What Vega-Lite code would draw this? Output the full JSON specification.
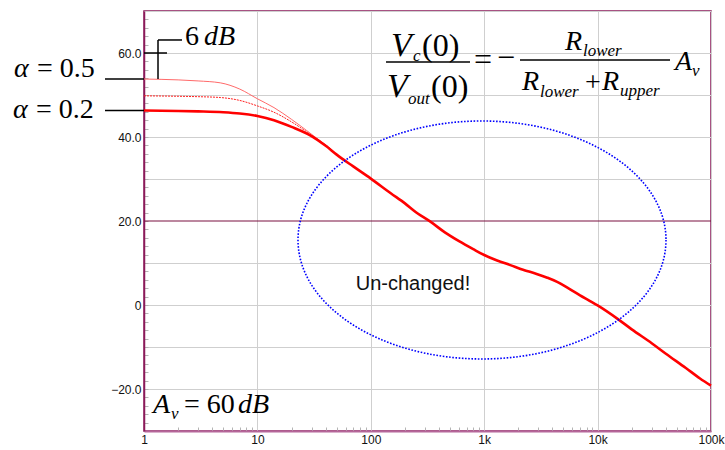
{
  "$schema": "https://vega.github.io/schema/vega-lite/v6.json",
  "width": 567,
  "height": 420,
  "autosize": {"type": "none"},
  "padding": {"left": 144, "top": 11, "right": 14, "bottom": 19},
  "background": "white",
  "config": {
    "view": {"stroke": "#8b1a5a", "strokeWidth": 1.5},
    "axis": {"title": null}
  },
  "datasets": {
    "alpha05": [
      {"f": 1, "db": 53.8}, {"f": 2, "db": 53.6}, {"f": 3, "db": 53.35}, {"f": 4.7, "db": 52.9},
      {"f": 7, "db": 51.4}, {"f": 10, "db": 49.1}, {"f": 14, "db": 47.0}, {"f": 20, "db": 44.2},
      {"f": 27, "db": 41.6}, {"f": 35, "db": 39.3}, {"f": 45, "db": 37.0}, {"f": 50, "db": 35.8},
      {"f": 70, "db": 33.0}, {"f": 100, "db": 30.1}
    ],
    "alphaMid": [
      {"f": 1, "db": 49.8}, {"f": 2, "db": 49.7}, {"f": 3, "db": 49.6}, {"f": 4.7, "db": 49.4},
      {"f": 7, "db": 48.7}, {"f": 10, "db": 47.4}, {"f": 14, "db": 45.9}, {"f": 20, "db": 43.6},
      {"f": 27, "db": 41.3}, {"f": 35, "db": 39.2}, {"f": 45, "db": 37.0}, {"f": 50, "db": 35.8},
      {"f": 70, "db": 33.0}, {"f": 100, "db": 30.1}
    ],
    "alpha02": [
      {"f": 1, "db": 46.3}, {"f": 2, "db": 46.2}, {"f": 3, "db": 46.1}, {"f": 5, "db": 45.9},
      {"f": 7, "db": 45.6}, {"f": 10, "db": 45.0}, {"f": 14, "db": 44.0}, {"f": 20, "db": 42.4},
      {"f": 30, "db": 40.2}, {"f": 40, "db": 37.9}, {"f": 50, "db": 35.8}, {"f": 70, "db": 33.0},
      {"f": 100, "db": 30.1}, {"f": 150, "db": 26.6}, {"f": 200, "db": 24.2}, {"f": 250, "db": 22.1},
      {"f": 333, "db": 19.9}, {"f": 450, "db": 17.3}, {"f": 600, "db": 15.2}, {"f": 800, "db": 13.3},
      {"f": 1000, "db": 11.9}, {"f": 1300, "db": 10.6}, {"f": 1700, "db": 9.5}, {"f": 2200, "db": 8.4},
      {"f": 2900, "db": 7.4}, {"f": 3600, "db": 6.5}, {"f": 4400, "db": 5.5}, {"f": 5500, "db": 4.0},
      {"f": 7000, "db": 2.3}, {"f": 8500, "db": 1.0}, {"f": 10000, "db": -0.1}, {"f": 15000, "db": -3.3},
      {"f": 20000, "db": -5.8}, {"f": 30000, "db": -9.1}, {"f": 40000, "db": -11.6}, {"f": 60000, "db": -15.0},
      {"f": 80000, "db": -17.5}, {"f": 100000, "db": -19.2}
    ],
    "leaders": [
      {"f": 0.453, "f2": 1, "db": 53.8, "db2": 53.8},
      {"f": 0.453, "f2": 1, "db": 46.3, "db2": 46.3},
      {"f": 1.329, "f2": 1.329, "db": 53.8, "db2": 63.1},
      {"f": 1.329, "f2": 2.163, "db": 63.1, "db2": 63.1},
      {"f": 1, "f2": 1.595, "db": 60, "db2": 60}
    ],
    "fractionBars": [
      {"f": 136.2, "f2": 749.6, "db": 57.86, "db2": 57.86},
      {"f": 2069, "f2": 43500, "db": 58.33, "db2": 58.33}
    ],
    "italic28": [
      {"f": 0.07139, "db": 54.29, "t": "α"},
      {"f": 0.06997, "db": 44.52, "t": "α"},
      {"f": 3.381, "db": 61.9, "t": "dB"},
      {"f": 1.2, "db": -25.71, "t": "A"},
      {"f": 6.744, "db": -25.71, "t": "dB"},
      {"f": 5158, "db": 60.71, "t": "R"},
      {"f": 2154, "db": 51.19, "t": "R"},
      {"f": 10935, "db": 51.19, "t": "R"},
      {"f": 48130, "db": 55.95, "t": "A"}
    ],
    "roman28": [
      {"f": 0.1138, "db": 54.29, "t": "= 0.5"},
      {"f": 0.1116, "db": 44.52, "t": "= 0.2"},
      {"f": 2.299, "db": 61.9, "t": "6"},
      {"f": 2.253, "db": -25.71, "t": "= 60"},
      {"f": 7743, "db": 50.95, "t": "+"}
    ],
    "italic34": [
      {"f": 150.7, "db": 59.29, "t": "V"},
      {"f": 138.9, "db": 49.52, "t": "V"}
    ],
    "roman32": [
      {"f": 282.8, "db": 59.29, "t": "(0)"},
      {"f": 339.6, "db": 49.52, "t": "(0)"},
      {"f": 812.9, "db": 55.95, "t": "="},
      {"f": 1297, "db": 56.43, "t": "−"}
    ],
    "subscripts": [
      {"f": 236, "db": 58.1, "t": "c"},
      {"f": 213, "db": 47.86, "t": "out"},
      {"f": 7435, "db": 59.29, "t": "lower"},
      {"f": 3105, "db": 49.52, "t": "lower"},
      {"f": 15760, "db": 49.76, "t": "upper"},
      {"f": 68000, "db": 54.52, "t": "v"},
      {"f": 1.73, "db": -27.14, "t": "v"}
    ],
    "callout": [
      {"f": 235.6, "db": 3.57, "t": "Un-changed!"}
    ]
  },
  "layer": [
    {
      "data": {"values": [{"db": 20}]},
      "mark": {"type": "rule", "color": "#7b1040", "strokeWidth": 1.2},
      "encoding": {
        "y": {"field": "db", "type": "quantitative", "scale": {"domain": [-30, 70], "nice": false, "zero": false}, "axis": null}
      }
    },
    {
      "data": {"name": "alpha05"},
      "mark": {"type": "line", "color": "#ff6a6a", "strokeWidth": 1, "interpolate": "monotone"},
      "encoding": {
        "x": {"field": "f", "type": "quantitative", "scale": {"type": "log", "domain": [1, 100000], "nice": false},
              "axis": {"orient": "bottom", "values": [1, 10, 100, 1000, 10000, 100000], "grid": true, "gridColor": "#cfcfcf", "gridWidth": 1, "labels": false, "ticks": false, "domain": false}},
        "y": {"field": "db", "type": "quantitative", "scale": {"domain": [-30, 70], "nice": false, "zero": false},
              "axis": {"orient": "left", "values": [-30, -20, -10, 0, 10, 30, 40, 50, 60, 70], "grid": true, "gridColor": "#cfcfcf", "gridWidth": 1, "labels": false, "ticks": false, "domain": false}}
      }
    },
    {
      "data": {"name": "alphaMid"},
      "mark": {"type": "line", "color": "#ff2020", "strokeWidth": 1, "strokeDash": [2, 1], "interpolate": "monotone"},
      "encoding": {
        "x": {"field": "f", "type": "quantitative", "scale": {"type": "log", "domain": [1, 100000], "nice": false},
              "axis": {"orient": "bottom", "values": [2, 3, 4, 5, 6, 7, 8, 9, 20, 30, 40, 50, 60, 70, 80, 90, 200, 300, 400, 500, 600, 700, 800, 900, 2000, 3000, 4000, 5000, 6000, 7000, 8000, 9000, 20000, 30000, 40000, 50000, 60000, 70000, 80000, 90000],
                       "grid": false, "labels": false, "ticks": true, "tickSize": -4, "tickColor": "#b4b4b4", "tickWidth": 1, "domain": false}},
        "y": {"field": "db", "type": "quantitative", "scale": {"domain": [-30, 70], "nice": false, "zero": false},
              "axis": {"orient": "left", "values": [-28, -26, -24, -22, -20, -18, -16, -14, -12, -10, -8, -6, -4, -2, 0, 2, 4, 6, 8, 10, 12, 14, 16, 18, 20, 22, 24, 26, 28, 30, 32, 34, 36, 38, 40, 42, 44, 46, 48, 50, 52, 54, 56, 58, 60, 62, 64, 66, 68],
                       "grid": false, "labels": false, "ticks": true, "tickSize": -4, "tickColor": "#b4b4b4", "tickWidth": 1, "domain": false}}
      }
    },
    {
      "data": {"name": "alpha02"},
      "mark": {"type": "line", "color": "#ff0000", "strokeWidth": 2.6, "interpolate": "monotone"},
      "encoding": {
        "x": {"field": "f", "type": "quantitative", "scale": {"type": "log", "domain": [1, 100000], "nice": false},
              "axis": {"orient": "bottom", "values": [1, 10, 100, 1000, 10000, 100000], "labelExpr": "datum.value >= 1000 ? (datum.value / 1000) + 'k' : datum.value + ''",
                       "grid": false, "ticks": false, "domain": true, "domainColor": "#b5679a", "domainWidth": 2,
                       "labelFont": "Liberation Sans", "labelFontSize": 12, "labelColor": "#111111", "labelPadding": 3, "labelFlush": false}},
        "y": {"field": "db", "type": "quantitative", "scale": {"domain": [-30, 70], "nice": false, "zero": false},
              "axis": {"orient": "left", "values": [-20, 0, 20, 40, 60], "labelExpr": "datum.value === 0 ? '0' : format(datum.value, '.1f')",
                       "grid": false, "ticks": false, "domain": true, "domainColor": "#8b1a5a", "domainWidth": 1.5,
                       "labelFont": "Liberation Sans", "labelFontSize": 12, "labelColor": "#111111", "labelPadding": 3}}
      }
    },
    {
      "data": {"values": [{"f": 956.3, "db": 15.48}]},
      "mark": {"type": "point", "shape": "M1,0C1,0.3572,0.5523,0.6467,0,0.6467C-0.5523,0.6467,-1,0.3572,-1,0C-1,-0.3572,-0.5523,-0.6467,0,-0.6467C0.5523,-0.6467,1,-0.3572,1,0Z",
               "size": 135424, "filled": false, "color": "#0000ff", "strokeWidth": 1.6, "strokeDash": [1.6, 1.6], "opacity": 1},
      "encoding": {
        "x": {"field": "f", "type": "quantitative", "scale": {"type": "log", "domain": [1, 100000], "nice": false}, "axis": null},
        "y": {"field": "db", "type": "quantitative", "scale": {"domain": [-30, 70], "nice": false, "zero": false}, "axis": null}
      }
    },
    {
      "data": {"name": "leaders"},
      "mark": {"type": "rule", "color": "#000000", "strokeWidth": 1.5},
      "encoding": {
        "x": {"field": "f", "type": "quantitative", "scale": {"type": "log", "domain": [1, 100000], "nice": false}, "axis": null},
        "x2": {"field": "f2"},
        "y": {"field": "db", "type": "quantitative", "scale": {"domain": [-30, 70], "nice": false, "zero": false}, "axis": null},
        "y2": {"field": "db2"}
      }
    },
    {
      "data": {"name": "fractionBars"},
      "mark": {"type": "rule", "color": "#000000", "strokeWidth": 1.3},
      "encoding": {
        "x": {"field": "f", "type": "quantitative", "scale": {"type": "log", "domain": [1, 100000], "nice": false}, "axis": null},
        "x2": {"field": "f2"},
        "y": {"field": "db", "type": "quantitative", "scale": {"domain": [-30, 70], "nice": false, "zero": false}, "axis": null},
        "y2": {"field": "db2"}
      }
    },
    {
      "data": {"name": "italic28"},
      "mark": {"type": "text", "font": "Liberation Serif", "fontSize": 28, "fontStyle": "italic", "align": "left", "baseline": "alphabetic", "color": "#000000"},
      "encoding": {
        "x": {"field": "f", "type": "quantitative", "scale": {"type": "log", "domain": [1, 100000], "nice": false}, "axis": null},
        "y": {"field": "db", "type": "quantitative", "scale": {"domain": [-30, 70], "nice": false, "zero": false}, "axis": null},
        "text": {"field": "t"}
      }
    },
    {
      "data": {"name": "roman28"},
      "mark": {"type": "text", "font": "Liberation Serif", "fontSize": 28, "align": "left", "baseline": "alphabetic", "color": "#000000"},
      "encoding": {
        "x": {"field": "f", "type": "quantitative", "scale": {"type": "log", "domain": [1, 100000], "nice": false}, "axis": null},
        "y": {"field": "db", "type": "quantitative", "scale": {"domain": [-30, 70], "nice": false, "zero": false}, "axis": null},
        "text": {"field": "t"}
      }
    },
    {
      "data": {"name": "italic34"},
      "mark": {"type": "text", "font": "Liberation Serif", "fontSize": 34, "fontStyle": "italic", "align": "left", "baseline": "alphabetic", "color": "#000000"},
      "encoding": {
        "x": {"field": "f", "type": "quantitative", "scale": {"type": "log", "domain": [1, 100000], "nice": false}, "axis": null},
        "y": {"field": "db", "type": "quantitative", "scale": {"domain": [-30, 70], "nice": false, "zero": false}, "axis": null},
        "text": {"field": "t"}
      }
    },
    {
      "data": {"name": "roman32"},
      "mark": {"type": "text", "font": "Liberation Serif", "fontSize": 32, "align": "left", "baseline": "alphabetic", "color": "#000000"},
      "encoding": {
        "x": {"field": "f", "type": "quantitative", "scale": {"type": "log", "domain": [1, 100000], "nice": false}, "axis": null},
        "y": {"field": "db", "type": "quantitative", "scale": {"domain": [-30, 70], "nice": false, "zero": false}, "axis": null},
        "text": {"field": "t"}
      }
    },
    {
      "data": {"name": "subscripts"},
      "mark": {"type": "text", "font": "Liberation Serif", "fontSize": 17, "fontStyle": "italic", "align": "left", "baseline": "alphabetic", "color": "#000000"},
      "encoding": {
        "x": {"field": "f", "type": "quantitative", "scale": {"type": "log", "domain": [1, 100000], "nice": false}, "axis": null},
        "y": {"field": "db", "type": "quantitative", "scale": {"domain": [-30, 70], "nice": false, "zero": false}, "axis": null},
        "text": {"field": "t"}
      }
    },
    {
      "data": {"name": "callout"},
      "mark": {"type": "text", "font": "Liberation Sans", "fontSize": 20, "align": "center", "baseline": "alphabetic", "color": "#111111"},
      "encoding": {
        "x": {"field": "f", "type": "quantitative", "scale": {"type": "log", "domain": [1, 100000], "nice": false}, "axis": null},
        "y": {"field": "db", "type": "quantitative", "scale": {"domain": [-30, 70], "nice": false, "zero": false}, "axis": null},
        "text": {"field": "t"}
      }
    }
  ],
  "resolve": {"axis": {"x": "independent", "y": "independent"}}
}
